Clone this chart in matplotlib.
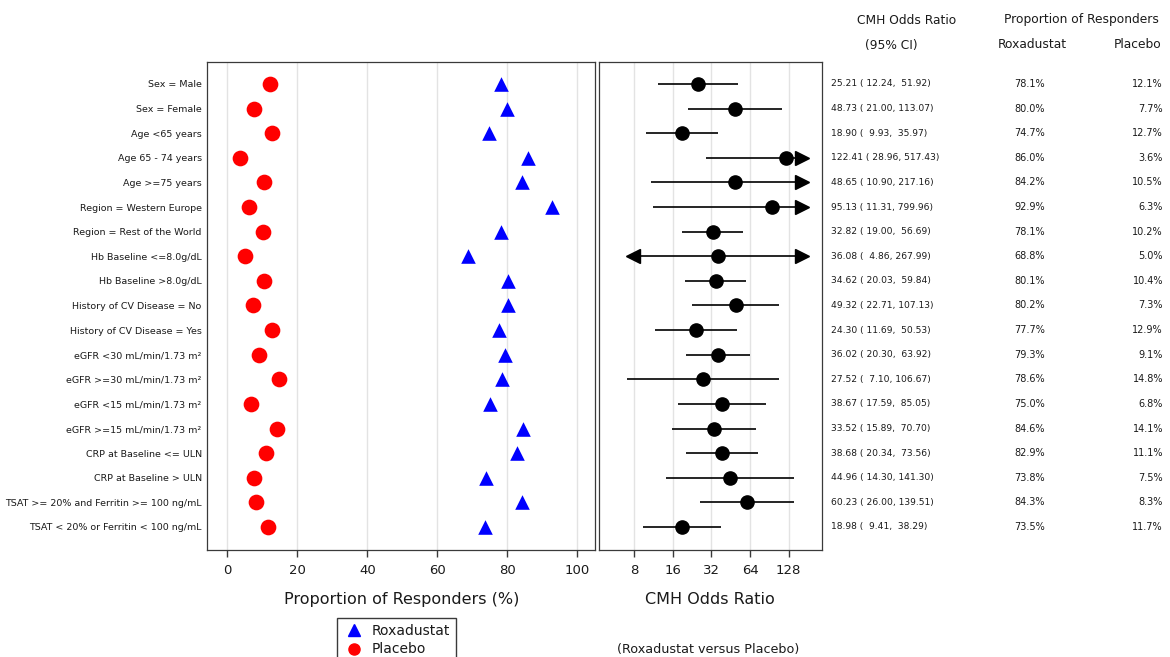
import matplotlib
matplotlib.use("Agg")
import matplotlib.pyplot as plt
import matplotlib.transforms as mtransforms
from matplotlib.lines import Line2D
import numpy as np

plt.rcParams['font.family'] = ['DejaVu Sans']

subgroups = [
    "Sex = Male", "Sex = Female", "Age <65 years", "Age 65 - 74 years",
    "Age >=75 years", "Region = Western Europe", "Region = Rest of the World",
    "Hb Baseline <=8.0g/dL", "Hb Baseline >8.0g/dL",
    "History of CV Disease = No", "History of CV Disease = Yes",
    "eGFR <30 mL/min/1.73 m\u00b2", "eGFR >=30 mL/min/1.73 m\u00b2",
    "eGFR <15 mL/min/1.73 m\u00b2", "eGFR >=15 mL/min/1.73 m\u00b2",
    "CRP at Baseline <= ULN", "CRP at Baseline > ULN",
    "TSAT >= 20% and Ferritin >= 100 ng/mL", "TSAT < 20% or Ferritin < 100 ng/mL",
]
roxa_pct = [78.1, 80.0, 74.7, 86.0, 84.2, 92.9, 78.1, 68.8, 80.1, 80.2,
            77.7, 79.3, 78.6, 75.0, 84.6, 82.9, 73.8, 84.3, 73.5]
placebo_pct = [12.1, 7.7, 12.7, 3.6, 10.5, 6.3, 10.2, 5.0, 10.4, 7.3,
               12.9, 9.1, 14.8, 6.8, 14.1, 11.1, 7.5, 8.3, 11.7]
odds_ratio = [25.21, 48.73, 18.90, 122.41, 48.65, 95.13, 32.82, 36.08, 34.62, 49.32,
              24.30, 36.02, 27.52, 38.67, 33.52, 38.68, 44.96, 60.23, 18.98]
ci_lower = [12.24, 21.00, 9.93, 28.96, 10.90, 11.31, 19.00, 4.86, 20.03, 22.71,
            11.69, 20.30, 7.10, 17.59, 15.89, 20.34, 14.30, 26.00, 9.41]
ci_upper = [51.92, 113.07, 35.97, 517.43, 217.16, 799.96, 56.69, 267.99, 59.84, 107.13,
            50.53, 63.92, 106.67, 85.05, 70.70, 73.56, 141.30, 139.51, 38.29]

left_ticks = [0, 20, 40, 60, 80, 100]
right_ticks = [8, 16, 32, 64, 128]
right_tick_labels = ["8", "16", "32", "64", "128"]

# axis clipping for CI arrows
CLIP_LO, CLIP_HI = 6.0, 160.0
ARROW_LO, ARROW_HI = 7.9, 161.0

TXT = "#1a1a1a"
GRID = "#e3e3e3"
SPINE = "#3a3a3a"

W, H = 1170, 657
fig = plt.figure(figsize=(W / 100, H / 100), dpi=100)

def fx(px):
    return px / W

def fy(py):
    return 1 - py / H

bottom = fy(550)
height = fy(61.7) - bottom
axL = fig.add_axes([fx(207.3), bottom, fx(595.3) - fx(207.3), height])
axR = fig.add_axes([fx(598.7), bottom, fx(822) - fx(598.7), height])

n = len(subgroups)
y = np.arange(n)
ylim = (n - 1 + 0.935, -0.906)

# ---- left panel
axL.scatter(roxa_pct, y, marker="^", s=10.5 ** 2, color="#0000ff", zorder=3,
            linewidths=0, label="Roxadustat")
axL.scatter(placebo_pct, y, marker="o", s=11.3 ** 2, color="#ff0000", zorder=3,
            linewidths=0, label="Placebo")
axL.set_xlim(-5.7, (595.3 - 227.3) / 3.5)
axL.set_ylim(*ylim)
axL.set_xticks(left_ticks)
axL.set_xticklabels([str(t) for t in left_ticks])
axL.set_yticks(y)
axL.set_yticklabels(subgroups, fontsize=6.8, color=TXT)
axL.tick_params(axis="y", length=0, pad=4)
axL.grid(axis="x", color=GRID, linewidth=1.0, zorder=0)
axL.set_axisbelow(True)
axL.set_xlabel("Proportion of Responders (%)", fontsize=11.5, color=TXT, labelpad=11)

# ---- right panel
axR.set_xscale("log", base=2)
for i in range(n):
    lo, hi = ci_lower[i], ci_upper[i]
    x0 = ARROW_LO if lo < CLIP_LO else lo
    x1 = ARROW_HI if hi > CLIP_HI else hi
    axR.plot([x0, x1], [y[i], y[i]], color="black", linewidth=1.2, zorder=2,
             solid_capstyle="butt")
    if lo < CLIP_LO:
        axR.plot([ARROW_LO], [y[i]], marker="<", markersize=9.5, color="black",
                 linewidth=0, zorder=3)
    if hi > CLIP_HI:
        axR.plot([ARROW_HI], [y[i]], marker=">", markersize=9.5, color="black",
                 linewidth=0, zorder=3)
axR.plot(odds_ratio, y, marker="o", markersize=9.5, color="black", linewidth=0, zorder=4)
axR.set_xlim(2 ** (3 - (634 - 598.7) / 38.68), 2 ** (3 + (822 - 634) / 38.68))
axR.set_ylim(*ylim)
axR.set_xticks(right_ticks)
axR.set_xticklabels(right_tick_labels)
axR.xaxis.set_minor_locator(matplotlib.ticker.NullLocator())
axR.set_yticks([])
axR.grid(axis="x", color=GRID, linewidth=1.0, zorder=0)
axR.set_axisbelow(True)
axR.set_xlabel("CMH Odds Ratio", fontsize=11.5, color=TXT, labelpad=11)

for ax in (axL, axR):
    for sp in ax.spines.values():
        sp.set_color(SPINE)
        sp.set_linewidth(0.9)
    ax.tick_params(axis="x", direction="out", length=5, width=1.0, color=SPINE,
                   labelsize=9.5, labelcolor=TXT, pad=5)

# ---- table on the right
tr = mtransforms.blended_transform_factory(fig.transFigure, axL.transData)

for i in range(n):
    or_txt = f"{odds_ratio[i]:.2f} ({ci_lower[i]:6.2f}, {ci_upper[i]:6.2f})"
    fig.text(fx(831), y[i], or_txt, transform=tr, ha="left", va="center",
             fontsize=6.6, color=TXT)
    fig.text(fx(1045), y[i], f"{roxa_pct[i]:.1f}%", transform=tr, ha="right",
             va="center", fontsize=7, color=TXT)
    fig.text(fx(1163), y[i], f"{placebo_pct[i]:.1f}%", transform=tr, ha="right",
             va="center", fontsize=7, color=TXT)

fig.text(fx(907), fy(20), "CMH Odds Ratio", ha="center", va="center", fontsize=8.8, color=TXT)
fig.text(fx(891), fy(45), "(95% CI)", ha="center", va="center", fontsize=8.8, color=TXT)
fig.text(fx(1081), fy(20), "Proportion of Responders", ha="center", va="center",
         fontsize=8.8, color=TXT)
fig.text(fx(1032), fy(45), "Roxadustat", ha="center", va="center", fontsize=8.8, color=TXT)
fig.text(fx(1138), fy(45), "Placebo", ha="center", va="center", fontsize=8.8, color=TXT)

fig.text(fx(708), fy(650), "(Roxadustat versus Placebo)", ha="center", va="center",
         fontsize=9.2, color=TXT)

# ---- legend
handles = [
    Line2D([], [], marker="^", color="#0000ff", linewidth=0, markersize=8),
    Line2D([], [], marker="o", color="#ff0000", linewidth=0, markersize=8),
]
leg = fig.legend(handles, ["Roxadustat", "Placebo"], loc="upper left",
                 bbox_to_anchor=(fx(337), fy(618)), bbox_transform=fig.transFigure,
                 fontsize=10, frameon=True, fancybox=False, borderaxespad=0,
                 borderpad=0.45, handlelength=1.6, handletextpad=0.45,
                 labelspacing=0.3, framealpha=1)
leg.get_frame().set_edgecolor(SPINE)
leg.get_frame().set_linewidth(1.0)
for t in leg.get_texts():
    t.set_color(TXT)

fig.savefig("out.png", dpi=100)
